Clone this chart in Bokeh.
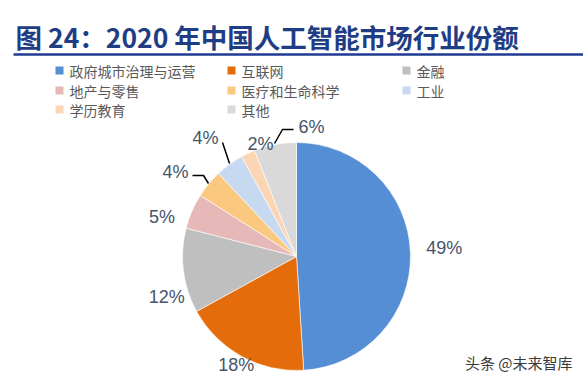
import math
from bokeh.plotting import figure
from bokeh.models import Range1d, ColumnDataSource
from bokeh.core.properties import value
from bokeh.embed import file_html
from bokeh.resources import INLINE

# ---- data ----
title_text = "图 24：2020 年中国人工智能市场行业份额"
categories = ["政府城市治理与运营", "互联网", "金融", "地产与零售",
              "医疗和生命科学", "工业", "学历教育", "其他"]
shares = [49, 18, 12, 5, 4, 4, 2, 6]
watermark = "头条 @未来智库"

# ---- styles / layout ----
colors = ["#558ED5", "#E46C0A", "#BFBFBF", "#E6B9B8",
          "#FAC97F", "#C6D9F1", "#FCD5B5", "#D9D9D9"]
W, H = 583, 381
CX, CY, R = 296, 256, 114          # pie centre / radius (page pixels)
LABEL_COLOR = "#44546A"
FONT = "Liberation Sans"
CJK = "Noto Sans CJK SC"

# label placement (radius, angle nudge in degrees) for labels without leader
label_polar = {0: (148, -1.3), 1: (124, 0.3), 2: (136, -10.3), 3: (140, -7.2)}
# labels with leader lines: label centre and leader path (page pixels)
label_leader = {
    4: ((175, 171), [(192, 175), (203, 175), (208, 183)]),
    5: ((205, 137), [(222, 142), (229, 163)]),
    6: ((260, 143), None),
    7: ((311, 126), [(293, 129), (282, 129), (274, 143)]),
}
legend_cols = [55, 227, 402]
legend_rows = [70, 90, 109]

p = figure(width=W, height=H, output_backend="svg", toolbar_location=None,
           x_range=Range1d(0, W), y_range=Range1d(-H, 0),
           min_border=0)
p.axis.visible = False
p.grid.visible = False
p.outline_line_color = None
p.background_fill_color = "white"

def P(x, y):
    return x, -y

# ---- title ----
tx, ty = P(15, 36)
p.text(x=[tx], y=[ty], text=[title_text], text_font=value(CJK),
       text_font_style="bold", text_font_size="26.5px", text_color="#1F3D85",
       text_baseline="middle", text_align="left")
lx0, ly = P(13, 54)
lx1, _ = P(W, 54)
p.line(x=[lx0, lx1], y=[ly, ly], line_color="#1F3A93", line_width=2.5)

# ---- legend ----
for i, cat in enumerate(categories):
    col = legend_cols[i % 3]
    row = legend_rows[i // 3]
    sx, sy = P(col + 4, row)
    p.rect(x=[sx], y=[sy], width=8, height=8, fill_color=colors[i],
           line_color=None)
    tx, ty = P(col + 14, row)
    p.text(x=[tx], y=[ty], text=[cat], text_font=value(CJK),
           text_font_size="14px", text_color="#595959",
           text_baseline="middle", text_align="left")

# ---- pie ----
total = sum(shares)
cum = 0.0
starts, ends, mids = [], [], []
for s in shares:
    t0 = cum / total * 2 * math.pi
    cum += s
    t1 = cum / total * 2 * math.pi
    starts.append(math.pi / 2 - t1)
    ends.append(math.pi / 2 - t0)
    mids.append((t0 + t1) / 2)

cx, cy = P(CX, CY)
src = ColumnDataSource(dict(start=starts, end=ends, color=colors))
p.wedge(x=cx, y=cy, radius=R, start_angle="start", end_angle="end",
        direction="anticlock", fill_color="color", line_color="white",
        line_width=0.6, source=src)

# ---- labels ----
for i, s in enumerate(shares):
    lab = f"{s}%"
    if i in label_polar:
        r, nud = label_polar[i]
        th = mids[i] + math.radians(nud)
        x = CX + r * math.sin(th)
        y = CY - r * math.cos(th)
    else:
        (x, y), path = label_leader[i]
        if path:
            xs = [q[0] for q in path]
            ys = [-q[1] for q in path]
            p.line(x=xs, y=ys, line_color="black", line_width=1.5)
    px, py = P(x, y)
    p.text(x=[px], y=[py], text=[lab], text_font=value(FONT),
           text_font_size="18px", text_color=LABEL_COLOR,
           text_baseline="middle", text_align="center")

# ---- watermark ----
wx, wy = P(572, 362)
p.text(x=[wx], y=[wy], text=[watermark], text_font=value(CJK),
       text_font_size="15px", text_color="#3A3A3A",
       text_baseline="middle", text_align="right")

open("out.html", "w").write(file_html(p, INLINE))
